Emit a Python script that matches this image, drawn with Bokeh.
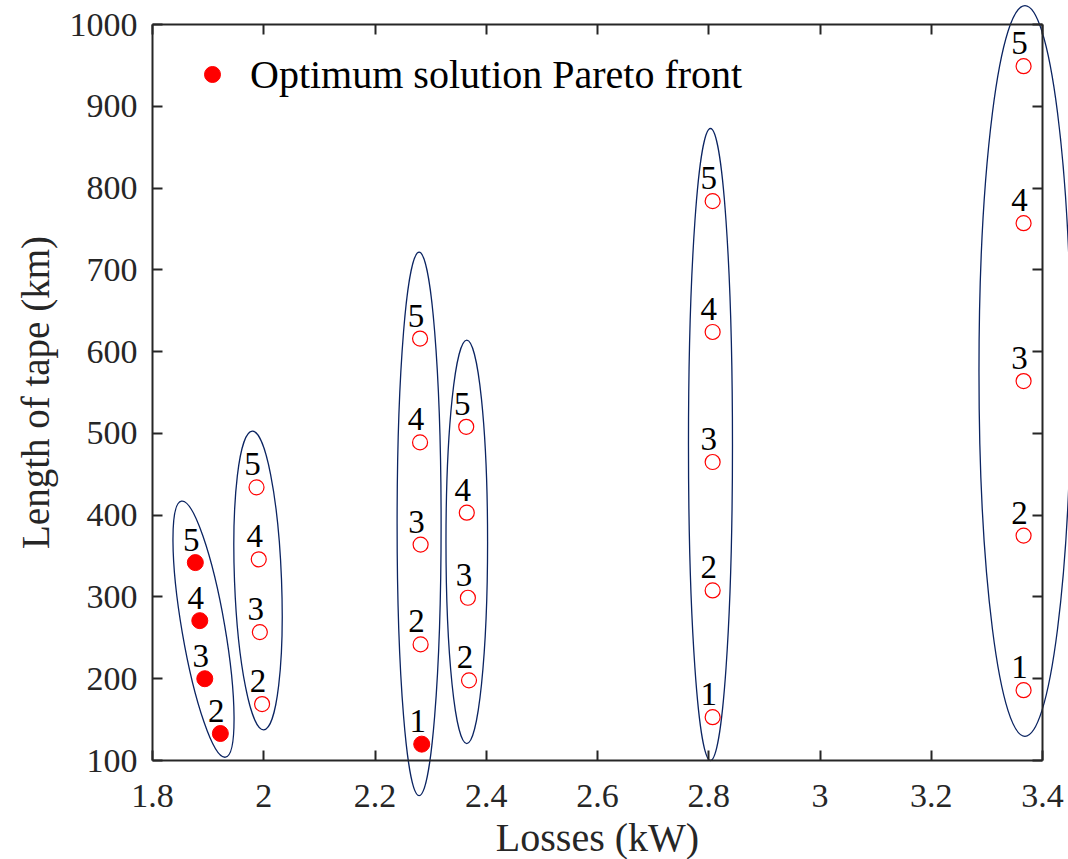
import numpy as np
from bokeh.plotting import figure
from bokeh.models import Range1d, LinearAxis, FixedTicker
from bokeh.core.properties import value
from bokeh.embed import file_html
from bokeh.resources import INLINE

# ---------------- data ----------------
# Pareto-optimal solutions (filled markers)
opt_losses = [1.877, 1.885, 1.894, 1.922, 2.284]
opt_tape = [342, 271, 200, 133, 120]
opt_labels = ["5", "4", "3", "2", "1"]

# other solutions (open markers)
other_losses = [1.987, 1.991, 1.993, 1.997,
                2.281, 2.281, 2.282, 2.282,
                2.364, 2.365, 2.367, 2.369,
                2.807, 2.807, 2.807, 2.807, 2.807,
                3.366, 3.366, 3.366, 3.366, 3.366]
other_tape = [434, 346, 257, 169,
              616, 489, 364, 242,
              508, 403, 299, 198,
              784, 624, 465, 308, 153,
              949, 757, 564, 375, 186]
other_labels = ["5", "4", "3", "2",
                "5", "4", "3", "2",
                "5", "4", "3", "2",
                "5", "4", "3", "2", "1",
                "5", "4", "3", "2", "1"]

x_ticks = [1.8, 2.0, 2.2, 2.4, 2.6, 2.8, 3.0, 3.2, 3.4]
x_tick_labels = ["1.8", "2", "2.2", "2.4", "2.6", "2.8", "3", "3.2", "3.4"]
y_ticks = [100, 200, 300, 400, 500, 600, 700, 800, 900, 1000]
y_tick_labels = ["100", "200", "300", "400", "500", "600", "700", "800", "900", "1000"]

# group-enclosing ellipses (centre, full width/height in data units, tilt in degrees)
ell_cx = [1.8917, 1.9897, 2.2793, 2.3650, 2.8031, 3.3685]
ell_cy = [260.6, 320.1, 389.3, 367.4, 486.4, 576.4]
ell_w = [0.0773, 0.0845, 0.0791, 0.0748, 0.0791, 0.1654]
ell_h = [317.7, 365.4, 664.5, 494.0, 772.8, 893.6]
ell_tilt = [9.75, 2.2, 0.0, 0.0, 0.0, 0.0]

# ---------------- layout ----------------
FONT = "Liberation Serif"
AX_COLOR = "#262626"
X_AX = (1.8, 3.4)          # axes box limits
Y_AX = (100, 1000)
BOX_W, BOX_H = 890, 736    # axes box size in px
LEFT, TOP = 152, 24        # box position on the page
CANVAS_W, CANVAS_H = 1068, 859

px_x = BOX_W / (X_AX[1] - X_AX[0])
px_y = BOX_H / (Y_AX[1] - Y_AX[0])
FW, FH = CANVAS_W, CANVAS_H
x_start = X_AX[0] - LEFT / px_x
x_end = x_start + FW / px_x
y_end = Y_AX[1] + TOP / px_y
y_start = y_end - FH / px_y

p = figure(frame_width=FW, frame_height=FH,
           x_range=Range1d(x_start, x_end), y_range=Range1d(y_start, y_end),
           output_backend="svg", toolbar_location=None,
           min_border_left=0, min_border_top=0, min_border_right=0,
           min_border_bottom=0,
           x_axis_label="Losses (kW)", y_axis_label="Length of tape (km)")
p.outline_line_color = None
p.grid.visible = False
p.background_fill_color = "white"
p.border_fill_color = "white"


def style_axis(ax, ticks, labels, bounds, show_labels=True):
    ax.ticker = FixedTicker(ticks=ticks)
    ax.bounds = bounds
    ax.major_tick_in = 10
    ax.major_tick_out = 0
    ax.minor_tick_in = 0
    ax.minor_tick_out = 0
    ax.axis_line_width = 2
    ax.axis_line_color = AX_COLOR
    ax.major_tick_line_width = 2
    ax.major_tick_line_color = AX_COLOR
    ax.major_label_text_font = FONT
    ax.major_label_text_color = AX_COLOR
    ax.axis_label_text_font = FONT
    ax.axis_label_text_color = AX_COLOR
    ax.axis_label_text_font_style = "normal"
    if show_labels:
        ax.major_label_overrides = {t: l for t, l in zip(ticks, labels)}
        ax.major_label_text_font_size = "34px"
    else:
        ax.major_label_overrides = {t: "" for t in ticks}
        ax.major_label_text_font_size = "1px"


xa = p.xaxis[0]
style_axis(xa, x_ticks, x_tick_labels, X_AX)
xa.fixed_location = Y_AX[0]
xa.major_label_standoff = 24
xa.axis_label_standoff = 5
xa.axis_label_text_font_size = "40px"

ya = p.yaxis[0]
style_axis(ya, y_ticks, y_tick_labels, Y_AX)
ya.fixed_location = X_AX[0]
ya.major_label_standoff = 15
ya.axis_label_standoff = 10
ya.axis_label_text_font_size = "39px"

top_ax = LinearAxis(fixed_location=Y_AX[1])
style_axis(top_ax, x_ticks, x_tick_labels, X_AX, show_labels=False)
p.add_layout(top_ax, "above")
right_ax = LinearAxis(fixed_location=X_AX[1])
style_axis(right_ax, y_ticks, y_tick_labels, Y_AX, show_labels=False)
p.add_layout(right_ax, "right")

# ---------------- ellipses ----------------
p.ellipse(x=ell_cx, y=ell_cy, width=ell_w, height=ell_h,
          angle=list(np.deg2rad(ell_tilt)),
          fill_color=None, line_color="#0b2462", line_width=1.3)

# ---------------- markers ----------------
p.scatter(other_losses, other_tape, marker="circle", size=15,
          fill_color=None, line_color="#ff0000", line_width=1.2)
p.scatter(opt_losses, opt_tape, marker="circle", size=16,
          fill_color="#ff0000", line_color="#ff0000",
          legend_label="Optimum solution Pareto front")

# number labels
for xs, ys, ls in ((other_losses, other_tape, other_labels),
                   (opt_losses, opt_tape, opt_labels)):
    p.text(x=xs, y=ys, text=ls, text_font=value(FONT), text_font_size="33px",
           text_color="black", text_align="center", text_baseline="middle",
           x_offset=-4, y_offset=-23)

# ---------------- legend ----------------
lg = p.legend[0]
lg.location = (192, 760)
lg.margin = 0
lg.padding = 0
lg.border_line_color = None
lg.background_fill_alpha = 0
lg.glyph_width = 40
lg.glyph_height = 50
lg.label_standoff = 18
lg.label_text_font = FONT
lg.label_text_font_size = "40px"
lg.label_text_color = "black"

open("out.html", "w").write(file_html(p, INLINE))
